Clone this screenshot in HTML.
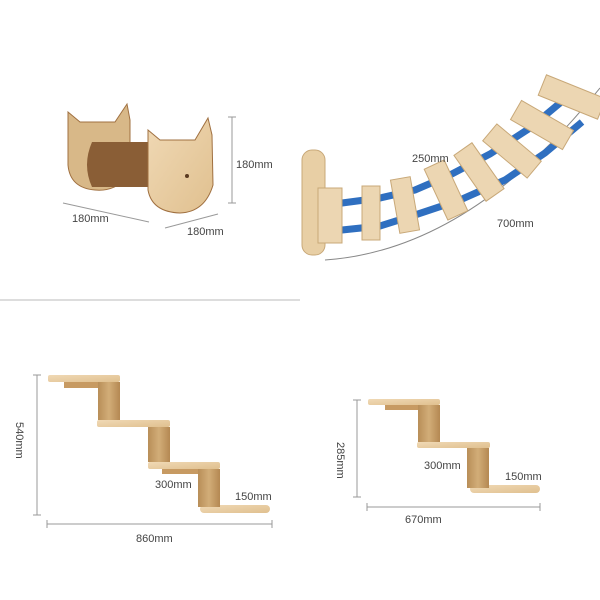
<!DOCTYPE html>
<html><head><meta charset="utf-8"><style>
html,body{margin:0;padding:0;background:#fff;}
svg{display:block}
text{font-family:"Liberation Sans",sans-serif;font-size:11px;fill:#444}
</style></head><body>
<svg width="600" height="600" viewBox="0 0 600 600">
<defs>
<linearGradient id="w" x1="0" y1="0" x2="1" y2="1"><stop offset="0" stop-color="#f0d9b5"/><stop offset="1" stop-color="#e0c08f"/></linearGradient>
<linearGradient id="p" x1="0" y1="0" x2="1" y2="0"><stop offset="0" stop-color="#b88e58"/><stop offset="0.5" stop-color="#d2ad78"/><stop offset="1" stop-color="#b48852"/></linearGradient>
</defs>
<!-- cat bed -->
<path d="M68,112 L80,122 L115,122 L127,104 L130,120 L130,175 Q115,192 95,190 Q70,188 68,165 Z" fill="#d8b888" stroke="#a07040" stroke-width="1"/>
<path d="M92,142 L150,142 L150,187 L92,187 Q82,165 92,142Z" fill="#8a5e36"/>
<path d="M148,130 L160,140 L195,140 L208,118 L212,135 L213,185 Q205,212 180,213 Q152,212 148,190 Z" fill="url(#w)" stroke="#a07040" stroke-width="1"/>
<circle cx="187" cy="176" r="2" fill="#5a3a20"/>
<g stroke="#999" stroke-width="1">
<line x1="232" y1="117" x2="232" y2="203"/><line x1="228" y1="117" x2="236" y2="117"/><line x1="228" y1="203" x2="236" y2="203"/>
<line x1="63" y1="203" x2="149" y2="222"/>
<line x1="165" y1="228" x2="218" y2="214"/>
</g>
<text x="236" y="168">180mm</text>
<text x="72" y="222">180mm</text>
<text x="187" y="235">180mm</text>
<!-- bridge -->
<path d="M325,260 Q470,250 600,88" fill="none" stroke="#888" stroke-width="1"/>
<polyline points="342,203 380,198 415,190 450,175 490,154 530,128 566,98" fill="none" stroke="#2f6fc0" stroke-width="7"/>
<polyline points="342,230 380,226 415,215 460,200 505,180 545,153 582,122" fill="none" stroke="#2f6fc0" stroke-width="7"/>
<rect x="302" y="150" width="23" height="105" rx="10" fill="#e8cfa5" stroke="#c8a878"/>
<g fill="#ecd6b2" stroke="#c8a878">
<rect x="-12" y="-27" width="24" height="55" transform="translate(330,215)"/>
<rect x="-9" y="-27" width="18" height="54" transform="translate(371,213)"/>
<rect x="-10" y="-27" width="20" height="54" transform="translate(405,205) rotate(-10)"/>
<rect x="-11" y="-28" width="22" height="56" transform="translate(446,190) rotate(-25)"/>
<rect x="-11" y="-28" width="22" height="56" transform="translate(479,172) rotate(-35)"/>
<rect x="-11" y="-29" width="22" height="58" transform="translate(512,151) rotate(-50)"/>
<rect x="-11" y="-30" width="22" height="60" transform="translate(542,125) rotate(-60)"/>
<rect x="-11" y="-32" width="22" height="64" transform="translate(572,97) rotate(-68)"/>
</g>
<text x="412" y="162">250mm</text>
<text x="497" y="227">700mm</text>
<line x1="0" y1="300" x2="300" y2="300" stroke="#ddd" stroke-width="2"/>
<!-- stairs left -->
<g fill="url(#w)">
<rect x="48" y="375" width="72" height="7" rx="2"/><rect x="64" y="382" width="56" height="6" fill="#c79a62"/>
<rect x="97" y="420" width="73" height="7" rx="2"/>
<rect x="148" y="462" width="72" height="7" rx="2"/><rect x="162" y="469" width="58" height="5" fill="#c79a62"/>
<rect x="200" y="505" width="70" height="8" rx="4"/>
</g>
<g fill="url(#p)">
<rect x="98" y="382" width="22" height="38"/><rect x="148" y="427" width="22" height="35"/><rect x="198" y="469" width="22" height="38"/>
</g>
<g stroke="#999" stroke-width="1">
<line x1="37" y1="375" x2="37" y2="515"/><line x1="33" y1="375" x2="41" y2="375"/><line x1="33" y1="515" x2="41" y2="515"/>
<line x1="47" y1="524" x2="272" y2="524"/><line x1="47" y1="520" x2="47" y2="528"/><line x1="272" y1="520" x2="272" y2="528"/>
<line x1="367" y1="507" x2="540" y2="507"/><line x1="367" y1="503" x2="367" y2="511"/><line x1="540" y1="503" x2="540" y2="511"/>
<line x1="357" y1="400" x2="357" y2="497"/><line x1="353" y1="400" x2="361" y2="400"/><line x1="353" y1="497" x2="361" y2="497"/>
</g>
<text x="0" y="0" transform="translate(16,422) rotate(90)">540mm</text>
<text x="136" y="542">860mm</text>
<text x="155" y="488">300mm</text>
<text x="235" y="500">150mm</text>
<!-- stairs right -->
<g fill="url(#w)">
<rect x="368" y="399" width="72" height="6" rx="2"/><rect x="385" y="405" width="55" height="5" fill="#c79a62"/>
<rect x="417" y="442" width="73" height="6" rx="2"/>
<rect x="470" y="485" width="70" height="8" rx="4"/>
</g>
<g fill="url(#p)">
<rect x="418" y="405" width="22" height="37"/><rect x="467" y="448" width="22" height="40"/>
</g>
<text x="0" y="0" transform="translate(337,442) rotate(90)">285mm</text>
<text x="405" y="523">670mm</text>
<text x="424" y="469">300mm</text>
<text x="505" y="480">150mm</text>
</svg>
</body></html>
